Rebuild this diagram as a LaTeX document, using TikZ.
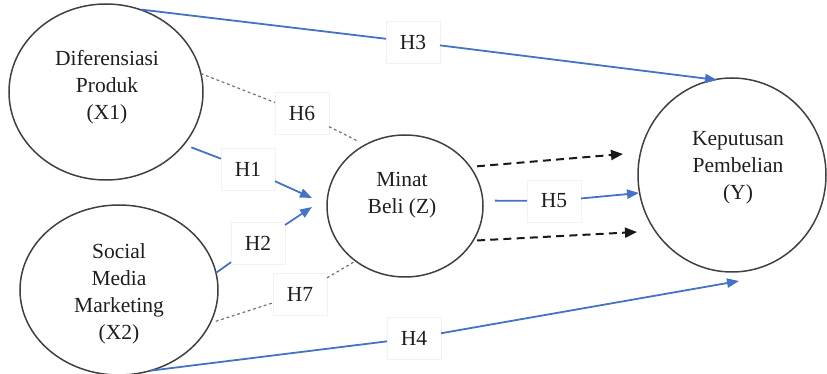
\documentclass[tikz,border=0pt]{standalone}
\usepackage{fontspec}
\setmainfont{Liberation Serif}
\usetikzlibrary{shapes.geometric,arrows.meta}
\definecolor{hblue}{HTML}{4472C4}
\definecolor{ringc}{HTML}{404040}
\definecolor{txtc}{HTML}{1E1E1E}
\begin{document}
\begin{tikzpicture}[x=0.5pt,y=-0.5pt,
  every node/.style={font=\fontsize{10.75}{13.5}\selectfont, text=txtc},
  var/.style={ellipse, draw=ringc, line width=0.75pt, inner sep=0pt, outer sep=0pt},
  vtext/.style={align=center, inner sep=0pt},
  hyp/.style={rectangle, fill=white, draw=black!5, line width=0.3pt,
    minimum width=27pt, minimum height=21pt, inner sep=0pt, outer sep=0pt},
  blueline/.style={draw=hblue, line width=0.9pt},
  bluearrow/.style={blueline, -{Triangle[length=6pt,width=4.6pt]}},
  dotline/.style={draw=black!55, line width=0.6pt, dash pattern=on 1.4pt off 1.4pt},
  dasharrow/.style={draw=black!90, line width=1pt, dash pattern=on 4pt off 2.6pt,
    -{Triangle[length=6pt,width=5pt]}}
]
\useasboundingbox (0,0) rectangle (827,374);

% constructs
\node[var, minimum width=97pt, minimum height=88pt] (x1) at (106,92) {};
\node[var, minimum width=99pt, minimum height=85pt] (x2) at (119,290) {};
\node[var, minimum width=78pt, minimum height=71pt] (z) at (405,206) {};
\node[var, minimum width=94pt, minimum height=97pt] (y) at (732,175) {};

\node[vtext] (x1t) at (107,87) {Diferensiasi\\Produk\\(X1)};
\node[vtext] (x2t) at (119,294) {Social\\Media\\Marketing\\(X2)};
\node[vtext] (zt) at (402,195) {Minat\\Beli (Z)};
\node[vtext] (yt) at (738,168) {Keputusan\\Pembelian\\(Y)};

% hypothesis labels
\node[hyp] (h3) at (413,42) {H3};
\node[hyp] (h6) at (302,113) {H6};
\node[hyp] (h1) at (248,169) {H1};
\node[hyp] (h2) at (258,243) {H2};
\node[hyp] (h7) at (300,294) {H7};
\node[hyp] (h5) at (554,201) {H5};
\node[hyp] (h4) at (414,338) {H4};

% free arrow ends
\coordinate (t3) at (717,80);
\coordinate (t1) at (312,198);
\coordinate (t2) at (312,207);
\coordinate (t5) at (639,193);
\coordinate (t4) at (739,281);
\coordinate (t6) at (623,154);
\coordinate (t7) at (637,232);

% H3
\draw[blueline, shorten <=1pt] (x1.68) -- (h3);
\draw[bluearrow] (h3) -- (t3);
% H1
\draw[blueline, shorten <=4pt] (x1.-34) -- (h1);
\draw[bluearrow] (h1) -- (t1);
% H2
\draw[blueline] (x2.10) -- (h2);
\draw[bluearrow] (h2) -- (t2);
% H4
\draw[blueline] (x2.-69) -- (h4);
\draw[bluearrow] (h4) -- (t4);
% H5
\draw[blueline, shorten <=6pt] (z.4) -- (h5);
\draw[bluearrow] (h5) -- (t5);
% H6
\draw[dotline] (x1.11) -- (h6);
\draw[dotline, shorten >=4pt] (h6) -- (z.123);
% H7
\draw[dotline, shorten <=3pt] (x2.-20) -- (h7);
\draw[dotline] (h7) -- (z.228);
% mediation dashed arrows
\draw[dasharrow, shorten <=3.5pt] (z.31) -- (t6);
\draw[dasharrow, shorten <=2pt] (z.-27) -- (t7);
\end{tikzpicture}
\end{document}
